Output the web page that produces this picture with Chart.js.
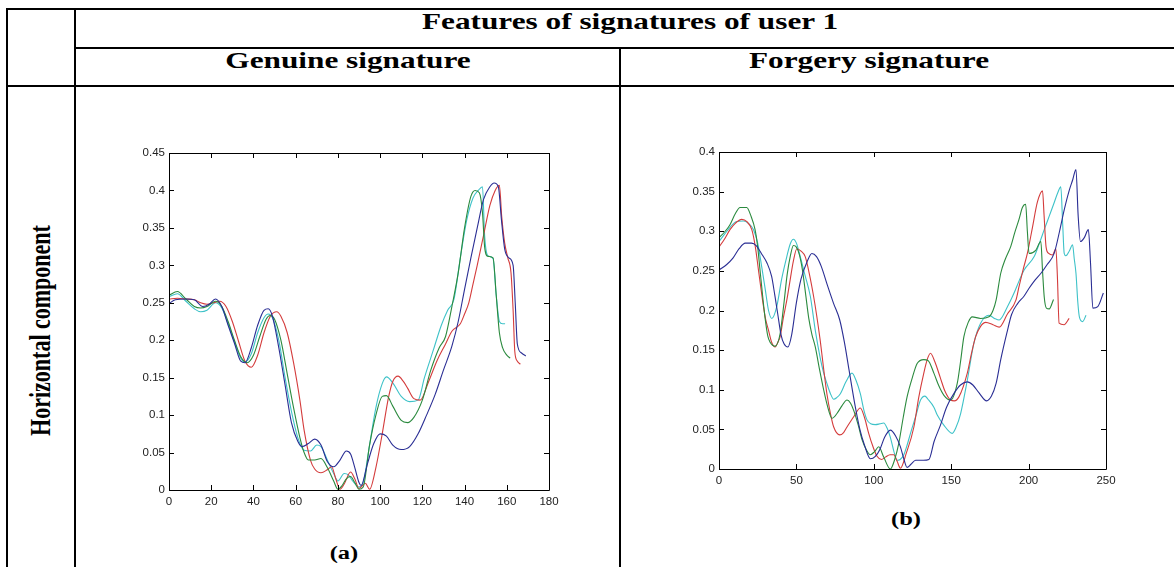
<!DOCTYPE html>
<html lang="en">
<head>
    <meta charset="UTF-8">
    <title>Features of signatures of user 1</title>
    <style>
        body {
            margin: 0;
            background: #fff;
            width: 1174px;
            height: 567px;
            overflow: hidden;
            position: relative;
            font-family: "Liberation Serif", "Times New Roman", serif;
        }
        .rule {
            position: absolute;
            background: #000;
        }
        .label {
            position: absolute;
            font-weight: bold;
            font-size: 23px;
            line-height: 23px;
            text-align: center;
            white-space: nowrap;
            color: #000;
            transform: scaleX(1.36);
        }
        .vertical {
            transform: rotate(-90deg) scaleY(1.36);
            font-size: 22px;
        }
        canvas {
            position: absolute;
        }
    </style>
    <script src="https://cdn.jsdelivr.net/npm/chart.js@4.4.0/dist/chart.umd.min.js"></script>
</head>
<body>
    <!-- table frame -->
    <div class="rule" style="left:6px; top:8px; width:1168px; height:2px;"></div>
    <div class="rule" style="left:75px; top:47px; width:1099px; height:2px;"></div>
    <div class="rule" style="left:6px; top:85px; width:1168px; height:2px;"></div>
    <div class="rule" style="left:6px; top:8px; width:2px; height:559px;"></div>
    <div class="rule" style="left:74px; top:8px; width:2px; height:559px;"></div>
    <div class="rule" style="left:619px; top:47px; width:2px; height:520px;"></div>

    <div class="label" style="left:330px; top:10px; width:600px;">Features of signatures of user 1</div>
    <div class="label" style="left:148px; top:49px; width:400px;">Genuine signature</div>
    <div class="label" style="left:669px; top:49px; width:400px;">Forgery signature</div>
    <div class="label vertical" style="left:-110px; top:319px; width:300px;">Horizontal component</div>
    <div class="label" style="left:294px; top:544px; width:100px; font-size:18px; line-height:18px;">(a)</div>
    <div class="label" style="left:856px; top:510px; width:100px; font-size:18px; line-height:18px;">(b)</div>

    <canvas id="genuineChart" width="470" height="380" style="left:100px; top:140px;"></canvas>
    <canvas id="forgeryChart" width="480" height="360" style="left:670px; top:140px;"></canvas>

    <script>
        // ---- genuine signatures (a) ----
        const genXTicks = [0, 20, 40, 60, 80, 100, 120, 140, 160, 180];
        const genYTicks = [0, 0.05, 0.1, 0.15, 0.2, 0.25, 0.3, 0.35, 0.4, 0.45];

        const genBlueX = [0, 3, 8, 12, 16, 19, 22, 25, 28, 31, 34, 36, 39, 42, 45, 47, 49, 52, 55, 58, 61, 63, 66, 69, 72, 75, 78, 81, 84, 86, 88, 90, 91, 94, 97, 100, 103, 106, 110, 114, 118, 122, 126, 130, 134, 137, 140, 143, 146, 149, 152, 154, 156, 157.5, 159, 161, 163, 164, 165, 167, 169];
        const genBlueY = [0.249, 0.254, 0.255, 0.254, 0.245, 0.248, 0.255, 0.245, 0.22, 0.196, 0.172, 0.17, 0.19, 0.22, 0.24, 0.242, 0.232, 0.19, 0.14, 0.09, 0.065, 0.058, 0.062, 0.068, 0.06, 0.038, 0.031, 0.04, 0.052, 0.048, 0.03, 0.01, 0.006, 0.035, 0.062, 0.075, 0.072, 0.06, 0.054, 0.058, 0.075, 0.1, 0.127, 0.16, 0.192, 0.225, 0.268, 0.31, 0.35, 0.388, 0.405, 0.41, 0.405, 0.36, 0.322, 0.31, 0.3, 0.25, 0.195, 0.183, 0.179];

        const genGreenX = [0, 4, 8, 12, 15, 18, 22, 25, 28, 31, 34, 37, 40, 43, 46, 48, 50, 53, 56, 59, 62, 64, 66, 69, 72, 75, 78, 80, 82, 84, 86, 88, 90, 92, 95, 98, 101, 103, 106, 110, 113, 116, 120, 124, 128, 131, 134, 137, 140, 143, 145, 147, 148.5, 149.5, 151, 153.5, 155, 156.5, 158, 160, 161.6];
        const genGreenY = [0.26, 0.265, 0.255, 0.245, 0.243, 0.245, 0.252, 0.245, 0.225, 0.2, 0.178, 0.17, 0.18, 0.205, 0.228, 0.233, 0.228, 0.2, 0.155, 0.11, 0.07, 0.05, 0.04, 0.04, 0.042, 0.03, 0.012, 0.001, 0.006, 0.015, 0.018, 0.01, 0.001, 0.004, 0.06, 0.1, 0.125, 0.126, 0.112, 0.093, 0.09, 0.097, 0.12, 0.16, 0.19, 0.205, 0.245, 0.29, 0.35, 0.392, 0.4, 0.397, 0.37, 0.325, 0.312, 0.31, 0.26, 0.21, 0.19, 0.18, 0.176];

        const genRedX = [0, 4, 8, 12, 15, 18, 21, 24, 27, 30, 33, 36, 39, 42, 45, 48, 51, 53, 56, 59, 62, 64, 67, 69, 72, 75, 77, 79, 81, 83, 86, 88, 90, 93, 95, 98, 101, 104, 106, 108.5, 111, 113, 116, 119, 123, 127, 131, 134, 138, 140, 142, 144, 146, 149, 152, 154.5, 156.5, 157.6, 159, 160.5, 162, 163, 163.8, 165, 166.5];
        const genRedY = [0.255, 0.256, 0.255, 0.254, 0.25, 0.248, 0.25, 0.252, 0.245, 0.225, 0.198, 0.172, 0.164, 0.18, 0.21, 0.232, 0.238, 0.232, 0.21, 0.17, 0.12, 0.08, 0.04, 0.028, 0.023, 0.027, 0.031, 0.015, 0.001, 0.008, 0.024, 0.015, 0.002, 0.009, 0.001, 0.03, 0.075, 0.124, 0.145, 0.152, 0.145, 0.136, 0.122, 0.12, 0.145, 0.173, 0.195, 0.212, 0.222, 0.235, 0.25, 0.275, 0.3, 0.34, 0.38, 0.4, 0.407, 0.365, 0.33, 0.31, 0.29, 0.24, 0.185, 0.172, 0.168];

        const genCyanX = [0, 4, 8, 12, 15, 18, 22, 25, 28, 31, 34, 36, 39, 42, 45, 47, 49, 52, 55, 58, 61, 64, 67, 70, 72, 75, 78, 80, 83, 85, 87, 90, 92, 95, 98, 101, 103, 106, 110, 114, 118, 121, 125, 129, 132, 135, 138, 141, 144, 146.5, 148.5, 149.5, 151, 153.5, 155, 156.5, 158, 159.2];
        const genCyanY = [0.258, 0.262, 0.252, 0.242, 0.238, 0.24, 0.25, 0.243, 0.222, 0.198, 0.176, 0.171, 0.182, 0.21, 0.23, 0.235, 0.23, 0.2, 0.15, 0.105, 0.07, 0.053, 0.052, 0.06, 0.058, 0.04, 0.022, 0.012, 0.022, 0.02, 0.012, 0.004, 0.01, 0.06, 0.11, 0.142, 0.151, 0.143, 0.125, 0.118, 0.12, 0.15, 0.185, 0.22, 0.24, 0.255, 0.31, 0.36, 0.39, 0.4, 0.405, 0.34, 0.313, 0.309, 0.26, 0.225, 0.222, 0.222];

        // ---- forgery signatures (b) ----
        const forXTicks = [0, 50, 100, 150, 200, 250];
        const forYTicks = [0, 0.05, 0.1, 0.15, 0.2, 0.25, 0.3, 0.35, 0.4];

        const forBlueX = [0, 5, 9, 13, 17, 21, 24, 28, 31, 34, 36, 38, 40, 42, 44.5, 47, 50, 53, 57, 60, 63, 66, 70, 74, 78, 81, 84, 88, 91, 94, 97.8, 101, 104, 107, 110.7, 114, 117.2, 119.5, 121.5, 124, 127, 132, 135.6, 139, 143, 147, 152, 156, 160.4, 164, 168, 172.9, 176, 179, 182, 186, 189, 193, 197, 200.3, 204, 208, 212, 216.5, 220, 223, 226.3, 228.5, 230.6, 232, 233.5, 236, 238.6, 240, 241.5, 244.7, 248.3];
        const forBlueY = [0.251, 0.258, 0.266, 0.278, 0.285, 0.285, 0.282, 0.27, 0.26, 0.243, 0.22, 0.195, 0.17, 0.158, 0.154, 0.17, 0.21, 0.24, 0.262, 0.272, 0.268, 0.256, 0.232, 0.209, 0.188, 0.16, 0.125, 0.079, 0.05, 0.03, 0.013, 0.016, 0.025, 0.04, 0.049, 0.042, 0.028, 0.012, 0.002, 0.006, 0.011, 0.011, 0.012, 0.035, 0.055, 0.078, 0.096, 0.106, 0.11, 0.106, 0.096, 0.086, 0.092, 0.108, 0.138, 0.172, 0.195, 0.209, 0.218, 0.228, 0.238, 0.247, 0.258, 0.272, 0.3, 0.327, 0.352, 0.365, 0.378, 0.32, 0.287, 0.292, 0.302, 0.26, 0.203, 0.205, 0.222];

        const forGreenX = [0, 4, 7, 10.5, 13.6, 17.9, 20.5, 23.3, 25, 26.5, 28, 29.8, 31.5, 33, 36.3, 39.5, 42, 44, 46, 48.1, 50, 52, 54, 56, 58, 60, 62.2, 65, 67.6, 70, 73, 76.2, 79.5, 82.7, 85, 87, 90, 92.4, 95, 97.8, 100.5, 103.2, 106.4, 110.7, 113.5, 116.1, 119, 121.5, 125, 128, 132.3, 135, 138.8, 142, 145.3, 149.6, 153.9, 156, 158.2, 161, 163.6, 169, 174.4, 177, 179, 182, 185, 188.5, 191, 193.8, 196, 198.1, 199.2, 200.3, 204.6, 207.9, 209, 210.1, 211.5, 213.3, 216.1];
        const forGreenY = [0.292, 0.3, 0.308, 0.322, 0.33, 0.33, 0.32, 0.302, 0.28, 0.251, 0.222, 0.19, 0.168, 0.16, 0.155, 0.171, 0.21, 0.245, 0.268, 0.282, 0.28, 0.27, 0.25, 0.22, 0.19, 0.17, 0.154, 0.125, 0.1, 0.08, 0.064, 0.07, 0.08, 0.087, 0.083, 0.074, 0.055, 0.037, 0.025, 0.018, 0.022, 0.028, 0.015, 0.0, 0.012, 0.032, 0.065, 0.091, 0.116, 0.133, 0.138, 0.137, 0.121, 0.105, 0.093, 0.087, 0.108, 0.135, 0.167, 0.185, 0.192, 0.19, 0.192, 0.2, 0.213, 0.247, 0.265, 0.281, 0.298, 0.315, 0.33, 0.334, 0.3, 0.272, 0.276, 0.287, 0.25, 0.217, 0.203, 0.202, 0.214];

        const forRedX = [0, 3.5, 7.1, 10.5, 14.7, 18, 21.2, 23.5, 25.5, 28, 30, 32, 34, 36.3, 38, 39.5, 41.5, 43.8, 46, 48, 50.3, 53, 55.7, 58.5, 61.1, 63, 65.4, 67.5, 69.7, 72, 74.1, 78, 80.5, 82.7, 87, 91.3, 94, 96.7, 99.5, 102.1, 105, 107.5, 110.5, 112.9, 115, 117.2, 121, 125.9, 129, 132.3, 134.5, 136.6, 139.5, 143, 146, 149.6, 152, 155, 160.4, 163, 165.8, 169, 172.3, 177, 181, 186.4, 191.8, 193.8, 196.5, 199.2, 202.5, 205.7, 209, 210, 211.3, 213, 215.4, 217.6, 218.6, 219.7, 222.9, 226.2];
        const forRedY = [0.28, 0.29, 0.302, 0.31, 0.315, 0.312, 0.302, 0.28, 0.251, 0.215, 0.19, 0.175, 0.16, 0.154, 0.16, 0.167, 0.19, 0.213, 0.239, 0.262, 0.278, 0.275, 0.268, 0.245, 0.218, 0.195, 0.162, 0.128, 0.095, 0.07, 0.053, 0.043, 0.046, 0.053, 0.066, 0.077, 0.065, 0.045, 0.028, 0.016, 0.012, 0.015, 0.018, 0.018, 0.01, 0.001, 0.02, 0.053, 0.09, 0.121, 0.138, 0.146, 0.135, 0.115, 0.098, 0.087, 0.086, 0.091, 0.121, 0.145, 0.167, 0.18, 0.185, 0.182, 0.179, 0.196, 0.213, 0.23, 0.252, 0.272, 0.305, 0.337, 0.351, 0.32, 0.28, 0.272, 0.27, 0.278, 0.243, 0.184, 0.182, 0.19];

        const forCyanX = [0, 3.5, 7.1, 11, 15.8, 19, 22.3, 25, 27.6, 30, 32, 34.1, 37.3, 40.5, 43.8, 46, 48.1, 50, 52.5, 55.5, 59, 62.2, 65.4, 67.5, 69.7, 72, 74.1, 76, 78.4, 82, 85.9, 88.5, 91.3, 93.5, 95.6, 98, 101, 104, 106.4, 108.5, 110.7, 113, 115, 117, 119.4, 121.5, 123.7, 127, 130.2, 133, 135, 138.8, 141, 145, 150.7, 153, 156.1, 160.4, 164.7, 169, 174.4, 178, 181, 186.4, 190.6, 194, 197.1, 203.6, 207, 210.1, 213.5, 216.5, 218.7, 220.8, 222, 223, 224.1, 226.3, 228.4, 229.5, 230.6, 231.8, 232.8, 234.9, 237.1];
        const forCyanY = [0.287, 0.296, 0.305, 0.312, 0.313, 0.31, 0.302, 0.285, 0.255, 0.225, 0.2, 0.19, 0.205, 0.24, 0.268, 0.284, 0.29, 0.285, 0.268, 0.245, 0.218, 0.175, 0.14, 0.122, 0.108, 0.095, 0.088, 0.09, 0.095, 0.11, 0.121, 0.112, 0.095, 0.075, 0.062, 0.057, 0.056, 0.057, 0.058, 0.052, 0.04, 0.022, 0.011, 0.012, 0.018, 0.03, 0.045, 0.066, 0.087, 0.092, 0.088, 0.078, 0.068, 0.056, 0.045, 0.052, 0.07, 0.112, 0.159, 0.184, 0.194, 0.19, 0.188, 0.205, 0.222, 0.238, 0.251, 0.268, 0.285, 0.302, 0.32, 0.336, 0.348, 0.356, 0.31, 0.272, 0.269, 0.275, 0.283, 0.265, 0.247, 0.21, 0.192, 0.186, 0.194];

        const BLUE = '#2a2e94';
        const GREEN = '#2b8a3e';
        const RED = '#d43c3c';
        const CYAN = '#3ec2c8';

        function toPoints(xs, ys) {
            return xs.map((x, i) => ({x: x, y: ys[i]}));
        }

        function series(xs, ys, color) {
            return {
                data: toPoints(xs, ys),
                borderColor: color,
                borderWidth: 1.1,
                pointRadius: 0,
                pointHoverRadius: 0,
                fill: false,
                cubicInterpolationMode: 'monotone'
            };
        }

        // MATLAB style box: frame round the plot area, ticks pointing inwards on all four sides
        const boxPlugin = {
            id: 'boxPlugin',
            afterDraw(chart) {
                const ctx = chart.ctx;
                const a = chart.chartArea;
                const xs = chart.scales.x;
                const ys = chart.scales.y;
                const len = 5;
                ctx.save();
                ctx.strokeStyle = '#000';
                ctx.lineWidth = 1;
                ctx.beginPath();
                ctx.rect(Math.round(a.left) + 0.5, Math.round(a.top) + 0.5,
                         Math.round(a.right - a.left), Math.round(a.bottom - a.top));
                xs.ticks.forEach(t => {
                    const px = Math.round(xs.getPixelForValue(t.value)) + 0.5;
                    ctx.moveTo(px, a.bottom);
                    ctx.lineTo(px, a.bottom - len);
                    ctx.moveTo(px, a.top);
                    ctx.lineTo(px, a.top + len);
                });
                ys.ticks.forEach(t => {
                    const py = Math.round(ys.getPixelForValue(t.value)) + 0.5;
                    ctx.moveTo(a.left, py);
                    ctx.lineTo(a.left + len, py);
                    ctx.moveTo(a.right, py);
                    ctx.lineTo(a.right - len, py);
                });
                ctx.stroke();
                ctx.restore();
            }
        };

        function makeChart(id, datasets, xMax, yMax, xTicks, yTicks, pad, yWidth, xHeight) {
            const tickFont = {family: '"Liberation Sans", Arial, sans-serif', size: 11.5};
            return new Chart(document.getElementById(id), {
                type: 'line',
                data: {datasets: datasets},
                options: {
                    animation: false,
                    responsive: false,
                    layout: {padding: pad},
                    scales: {
                        x: {
                            type: 'linear',
                            min: 0,
                            max: xMax,
                            afterBuildTicks: s => { s.ticks = xTicks.map(v => ({value: v})); },
                            afterFit: s => { s.height = xHeight; },
                            grid: {display: false, drawTicks: false},
                            border: {display: false},
                            ticks: {
                                autoSkip: false,
                                maxRotation: 0,
                                padding: 5,
                                color: '#222',
                                font: tickFont,
                                callback: v => String(+v.toFixed(2))
                            }
                        },
                        y: {
                            min: 0,
                            max: yMax,
                            afterBuildTicks: s => { s.ticks = yTicks.map(v => ({value: v})); },
                            afterFit: s => { s.width = yWidth; },
                            grid: {display: false, drawTicks: false},
                            border: {display: false},
                            ticks: {
                                autoSkip: false,
                                padding: 4,
                                color: '#222',
                                font: tickFont,
                                callback: v => String(+v.toFixed(2))
                            }
                        }
                    },
                    plugins: {
                        legend: {display: false},
                        title: {display: false},
                        tooltip: {enabled: false}
                    }
                },
                plugins: [boxPlugin]
            });
        }

        makeChart('genuineChart', [
            series(genBlueX, genBlueY, BLUE),
            series(genGreenX, genGreenY, GREEN),
            series(genRedX, genRedY, RED),
            series(genCyanX, genCyanY, CYAN)
        ], 180, 0.45, genXTicks, genYTicks, {top: 13, right: 21, left: 0, bottom: 0}, 69, 30);

        makeChart('forgeryChart', [
            series(forBlueX, forBlueY, BLUE),
            series(forGreenX, forGreenY, GREEN),
            series(forRedX, forRedY, RED),
            series(forCyanX, forCyanY, CYAN)
        ], 250, 0.4, forXTicks, forYTicks, {top: 12, right: 44, left: 0, bottom: 0}, 49, 31);
    </script>
</body>
</html>
